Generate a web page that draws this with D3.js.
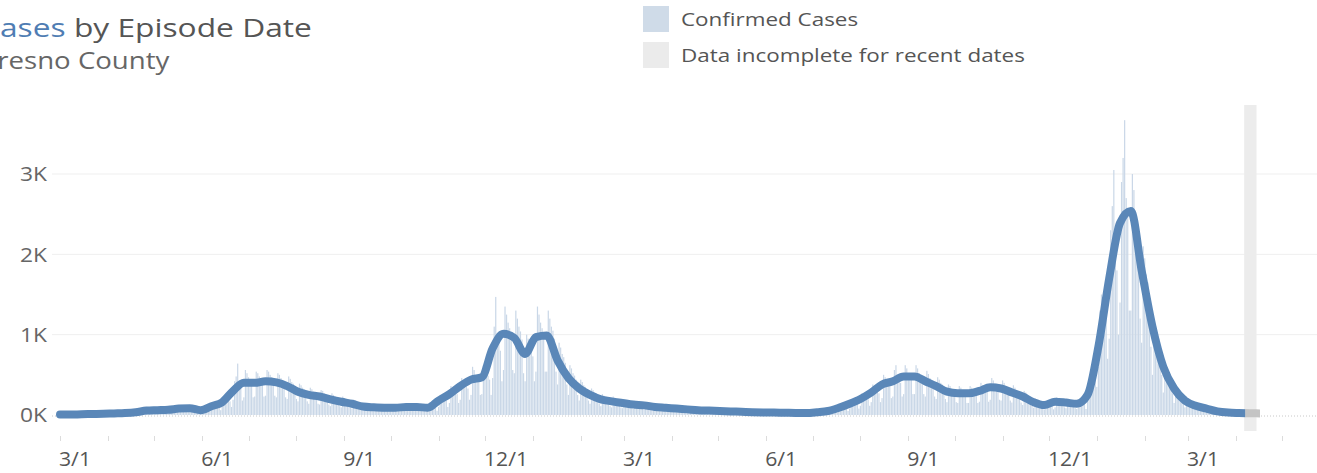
<!DOCTYPE html>
<html>
<head>
<meta charset="utf-8">
<script src="https://cdn.jsdelivr.net/npm/d3@7"></script>
<style>
  body { margin: 0; background: #fff; overflow: hidden; }
  svg { display: block; font-family: "Open Sans", sans-serif; }
</style>
</head>
<body>
<svg id="chart" width="1317" height="473"></svg>
<script>
// first day of data, and first day flagged as incomplete
const startDate = new Date(2020, 2, 1);
const incompleteFrom = new Date(2022, 3, 7);

// daily confirmed cases, one row per week (Sun..Sat) starting 2020-03-01
const dailyCases = [
  0,2,3,4,5,4,2,
  3,7,8,6,7,6,3,
  5,12,14,11,12,10,5,
  6,15,16,14,13,12,6,
  8,20,19,17,16,15,8,
  11,27,25,24,22,20,12,
  14,34,33,30,28,26,15,
  22,52,48,44,42,38,22,
  30,72,66,60,58,52,30,
  34,80,76,68,64,60,34,
  38,92,86,78,74,68,38,
  44,112,104,92,88,80,45,
  42,100,94,84,80,72,40,
  36,90,110,96,92,84,46,
  64,150,140,126,120,108,60,
  110,240,220,200,190,170,100,
  190,420,480,640,400,350,180,
  220,560,520,470,440,400,220,
  230,540,520,480,450,410,230,
  240,560,540,500,470,420,240,
  220,520,500,460,430,390,220,
  200,480,450,410,390,350,200,
  170,390,370,340,320,290,170,
  140,340,320,290,270,250,140,
  130,310,300,270,250,230,130,
  110,270,250,230,210,190,110,
  95,230,210,190,180,160,95,
  80,190,180,160,150,140,80,
  60,145,135,120,115,105,60,
  55,130,120,110,100,95,55,
  52,125,115,105,98,90,52,
  52,125,115,105,98,90,52,
  58,140,130,115,110,100,58,
  58,140,130,115,110,100,58,
  52,125,115,105,98,90,52,
  100,250,230,210,190,180,100,
  150,360,340,300,290,260,150,
  190,460,430,390,370,330,190,
  250,600,560,500,480,430,250,
  260,620,580,520,490,440,250,
  460,1100,1470,950,900,800,420,
  560,1350,1250,1150,1080,980,560,
  520,1300,1200,1100,1040,940,520,
  420,1000,950,860,800,730,420,
  540,1350,1250,1150,1080,980,540,
  540,1300,1200,1100,1050,950,540,
  380,900,840,760,720,650,380,
  250,620,580,520,490,440,250,
  180,440,410,370,350,320,180,
  140,330,310,280,270,240,140,
  110,260,240,220,210,190,110,
  95,230,215,195,180,165,95,
  85,200,190,170,160,145,85,
  75,175,165,150,140,130,75,
  68,160,150,135,128,115,68,
  56,135,125,112,105,96,56,
  50,120,110,100,95,85,50,
  45,105,100,90,85,75,45,
  40,95,88,80,75,68,40,
  34,82,76,68,64,58,34,
  31,74,69,62,58,53,31,
  28,67,62,56,53,48,28,
  25,60,56,50,47,43,25,
  22,54,50,45,42,38,22,
  20,47,44,40,37,34,20,
  18,43,40,36,34,31,18,
  17,40,37,34,32,29,17,
  16,38,35,32,30,27,16,
  14,34,31,28,27,24,14,
  15,36,33,30,28,25,15,
  20,48,44,40,38,34,20,
  28,68,62,56,53,48,28,
  50,120,110,100,95,85,50,
  80,190,175,160,150,135,80,
  115,270,250,230,215,195,115,
  160,380,350,320,300,270,160,
  210,500,470,420,400,360,210,
  230,560,620,470,440,400,230,
  260,620,580,520,490,440,260,
  260,620,580,520,490,440,260,
  230,550,510,460,430,390,230,
  200,470,440,400,380,340,200,
  160,380,360,320,300,270,160,
  150,360,340,300,290,260,150,
  150,360,340,300,290,260,150,
  165,400,370,330,320,290,165,
  190,460,430,390,370,330,190,
  180,430,400,360,350,310,180,
  155,370,340,310,290,260,155,
  125,300,280,250,240,215,125,
  90,210,195,175,165,150,90,
  70,165,155,140,130,120,70,
  95,220,210,190,180,160,95,
  85,200,185,165,155,140,85,
  75,180,170,150,145,130,75,
  200,450,550,500,500,520,350,
  600,1300,1500,1400,1350,1250,700,
  950,2300,2600,3050,2000,1800,1000,
  1400,2900,3200,3670,2700,2500,1300,
  1300,3000,2800,2500,2350,2100,1200,
  900,2100,1950,1750,1650,1500,850,
  500,1200,1100,1000,950,850,500,
  280,650,600,540,510,460,270,
  150,360,340,300,290,260,150,
  95,230,210,190,180,160,95,
  62,150,140,125,118,106,62,
  40,95,88,80,75,68,40,
  25,60,55,50,47,43,25,
  18,42,40,36,34,30,18,
  15,36,33,30,20,15,12,
  10,8,6,4,2
];

// 7-day average, one reading per week starting 2020-03-01
const weeklyAverage = [
  5,5,10,12,15,20,25,35,55,60,65,80,85,60,110,160,
  300,400,400,420,405,360,290,250,230,195,165,140,105,95,90,90,
  100,100,90,180,260,360,440,470,830,1010,960,760,970,990,680,460,
  330,250,195,170,150,130,120,100,90,80,70,60,55,50,45,40,
  35,32,30,28,25,25,35,50,90,140,200,280,380,420,480,480,
  420,360,290,270,270,300,345,330,280,230,160,125,165,155,140,250,
  850,1700,2390,2540,1800,1100,600,330,180,115,80,45,30,25,22,20
];

const yTicks = [0, 1000, 2000, 3000];
const labelMonths = [2, 5, 8, 11]; // Mar, Jun, Sep, Dec get a label

const legendItems = [
  { label: "Confirmed Cases", color: "#cfdbe8" },
  { label: "Data incomplete for recent dates", color: "#ebebeb" }
];

const svg = d3.select("#chart");
const width = 1317;

// the original screenshot is a bit wider than normal type, stretch text to match
function widen(sel, k) {
  sel.each(function () {
    const w = this.getComputedTextLength();
    d3.select(this)
      .attr("textLength", w * k)
      .attr("lengthAdjust", "spacingAndGlyphs");
  });
}

const lastDate = d3.timeDay.offset(startDate, dailyCases.length - 1);

const x = d3.scaleTime()
  .domain([new Date(2020, 2, 1), new Date(2022, 2, 1)])
  .range([60, 1188]);

const y = d3.scaleLinear()
  .domain([0, 3000])
  .range([415, 174]);

// title (runs off the left edge like the original)
const title = svg.append("text")
  .attr("x", -20).attr("y", 37)
  .attr("font-size", 26);
title.append("tspan").attr("fill", "#4f7db3").text("Cases");
title.append("tspan").attr("fill", "#555").text(" by Episode Date");
widen(title, 1.22);

const subtitle = svg.append("text")
  .attr("x", -17).attr("y", 69)
  .attr("font-size", 24)
  .attr("fill", "#666")
  .text("Fresno County");
widen(subtitle, 1.15);

// legend
const legend = svg.append("g");
legendItems.forEach((item, i) => {
  legend.append("rect")
    .attr("x", 643).attr("y", 6 + i * 36)
    .attr("width", 26).attr("height", 26)
    .attr("fill", item.color);
  const t = legend.append("text")
    .attr("x", 681).attr("y", 26 + i * 36)
    .attr("font-size", 19)
    .attr("fill", "#555")
    .text(item.label);
  widen(t, 1.18);
});

// gridlines and y labels
svg.append("g").selectAll("line")
  .data(yTicks.filter(t => t > 0))
  .join("line")
  .attr("x1", 52).attr("x2", width)
  .attr("y1", d => y(d)).attr("y2", d => y(d))
  .attr("stroke", "#efefef");

svg.append("line")
  .attr("x1", 52).attr("x2", width)
  .attr("y1", y(0) + 1).attr("y2", y(0) + 1)
  .attr("stroke", "#c8c8c8")
  .attr("stroke-dasharray", "1,2");

const yLabels = svg.append("g").selectAll("text")
  .data(yTicks)
  .join("text")
  .attr("x", 47)
  .attr("y", d => y(d))
  .attr("dy", "0.36em")
  .attr("text-anchor", "end")
  .attr("font-size", 20)
  .attr("fill", "#666")
  .text(d => (d / 1000) + "K");
widen(yLabels, 1.14);

// incomplete data band
svg.append("rect")
  .attr("x", x(incompleteFrom) - 1)
  .attr("width", x(d3.timeDay.offset(lastDate, 1)) - x(incompleteFrom))
  .attr("y", 105)
  .attr("height", 326)
  .attr("fill", "#ececec");

// x axis: monthly ticks, quarterly labels
const months = d3.timeMonth.range(new Date(2020, 2, 1), new Date(2022, 5, 1))
  .filter(d => x(d) <= width);

svg.append("g").selectAll("line")
  .data(months)
  .join("line")
  .attr("x1", d => Math.round(x(d)) + 0.5).attr("x2", d => Math.round(x(d)) + 0.5)
  .attr("y1", 436).attr("y2", 441)
  .attr("stroke", "#dcdcdc");

const fmt = d3.timeFormat("%-m/%-d");
const xLabels = svg.append("g").selectAll("text")
  .data(months.filter(d => labelMonths.includes(d.getMonth()) && x(d) < 1200))
  .join("text")
  .attr("x", d => x(d) - 1)
  .attr("y", 466)
  .attr("font-size", 20)
  .attr("fill", "#555")
  .text(fmt);
widen(xLabels, 1.06);

// daily bars
const bars = dailyCases.map((v, i) => ({ date: d3.timeDay.offset(startDate, i), value: v }));

svg.append("g").selectAll("rect")
  .data(bars)
  .join("rect")
  .attr("x", d => x(d.date) - 0.6)
  .attr("width", 1.2)
  .attr("y", d => y(d.value))
  .attr("height", d => y(0) - y(d.value))
  .attr("fill", d => d.date >= incompleteFrom ? "#dedede" : "#c9d7e7");

// 7-day average line, split at the incomplete date
const avg = weeklyAverage.map((v, i) => ({ date: d3.timeDay.offset(startDate, i * 7), value: v }));

const defs = svg.append("defs");
defs.append("clipPath").attr("id", "clip-done")
  .append("rect")
  .attr("x", 0).attr("y", 0)
  .attr("width", x(incompleteFrom)).attr("height", 473);
defs.append("clipPath").attr("id", "clip-inc")
  .append("rect")
  .attr("x", x(incompleteFrom)).attr("y", 0)
  .attr("width", x(lastDate) - x(incompleteFrom) + 4).attr("height", 473);

const lineGen = d3.line()
  .x(d => x(d.date))
  .y(d => y(d.value))
  .curve(d3.curveMonotoneX);

svg.append("path")
  .datum(avg)
  .attr("d", lineGen)
  .attr("clip-path", "url(#clip-inc)")
  .attr("fill", "none")
  .attr("stroke", "#c4c4c4")
  .attr("stroke-width", 8);

svg.append("path")
  .datum(avg)
  .attr("d", lineGen)
  .attr("clip-path", "url(#clip-done)")
  .attr("fill", "none")
  .attr("stroke", "#5a87b8")
  .attr("stroke-width", 8)
  .attr("stroke-linejoin", "round")
  .attr("stroke-linecap", "round");
</script>
</body>
</html>
